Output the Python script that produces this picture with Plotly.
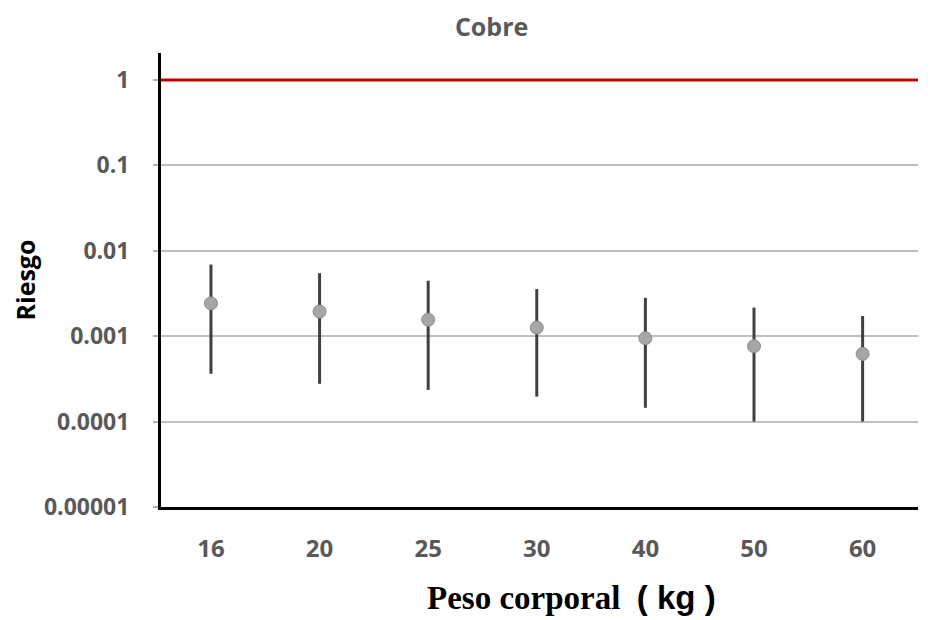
import plotly.graph_objects as go

# Peso corporal categories and risk estimates
pesos = ["16", "20", "25", "30", "40", "50", "60"]
riesgo_medio = [0.00242, 0.00194, 0.00156, 0.00126, 0.000947, 0.000762, 0.00062]
riesgo_alto = [0.00689, 0.00546, 0.00446, 0.00356, 0.00281, 0.00216, 0.00172]
riesgo_bajo = [0.000363, 0.000277, 0.000235, 0.000196, 0.000145, 0.0001, 0.0001]
umbral = 1

y_ticks = [0.00001, 0.0001, 0.001, 0.01, 0.1, 1]
y_ticktext = ["0.00001", "0.0001", "0.001", "0.01", "0.1", "1"]

err_up = [h - m for h, m in zip(riesgo_alto, riesgo_medio)]
err_down = [m - l for m, l in zip(riesgo_medio, riesgo_bajo)]

fig = go.Figure()
fig.add_hline(y=umbral, line_color="#c00000", line_width=3, layer="above")
fig.add_trace(go.Scatter(
    x=pesos, y=riesgo_medio, mode="markers",
    marker=dict(size=13, color="#a6a6a6", line=dict(color="#8c8c8c", width=1)),
    error_y=dict(type="data", symmetric=False, array=err_up, arrayminus=err_down,
                 color="#404040", thickness=3, width=0),
    showlegend=False,
))

sans = "Open Sans, Liberation Sans, sans-serif"
tick_font = dict(family=sans, size=23, color="#595959", weight="bold")

# x title sits a bit right of the plot centre in the original, so it's an annotation
fig.add_annotation(
    text="<b>Peso corporal</b>  <b><span style='font-family:Liberation Sans'>( kg )</span></b>",
    xref="paper", yref="paper", x=0.542, y=-0.2, xanchor="center", yanchor="middle",
    showarrow=False, font=dict(family="Liberation Serif, serif", size=33, color="black"),
)

# page body has an 8px margin, so the figure is sized/offset to compensate
fig.update_layout(
    width=930, height=612,
    plot_bgcolor="white", paper_bgcolor="white",
    margin=dict(l=153, r=20, t=45, b=113),
    title=dict(text="<b>Cobre</b>", x=0.52, xanchor="center", y=0.969, yanchor="middle",
               font=dict(family=sans, size=25, color="#595959")),
    xaxis=dict(
        type="category", range=[-0.46, 6.51], automargin=False,
        showline=True, linecolor="black", linewidth=3, showgrid=False,
        ticks="", tickfont=dict(tick_font, size=24), ticklabelstandoff=18,
    ),
    yaxis=dict(
        type="log", range=[-5, 0.315], automargin=False,
        tickvals=y_ticks, ticktext=y_ticktext,
        showline=True, linecolor="black", linewidth=3,
        showgrid=True, gridcolor="#c0c0c0", gridwidth=2,
        ticks="outside", ticklen=5, tickcolor="#b0b0b0", tickwidth=2,
        tickfont=tick_font, ticklabelstandoff=19,
        zeroline=False,
        title=dict(text="<b>Riesgo</b>", font=dict(family=sans, size=25, color="black"), standoff=20),
    ),
)

fig.write_html("out.html")
